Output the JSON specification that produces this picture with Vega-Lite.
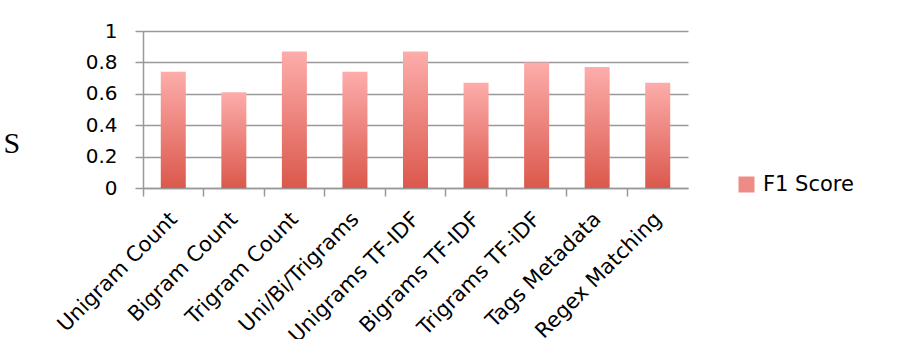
{
  "$schema": "https://vega.github.io/schema/vega-lite/v6.json",
  "width": 545,
  "height": 157,
  "autosize": {"type": "none"},
  "padding": {"left": 143, "top": 31, "right": 228, "bottom": 151},
  "background": "white",
  "data": {
    "values": [
      {"method": "Unigram Count", "score": 0.74, "series": "F1 Score"},
      {"method": "Bigram Count", "score": 0.61, "series": "F1 Score"},
      {"method": "Trigram Count", "score": 0.87, "series": "F1 Score"},
      {"method": "Uni/Bi/Trigrams", "score": 0.74, "series": "F1 Score"},
      {"method": "Unigrams TF-IDF", "score": 0.87, "series": "F1 Score"},
      {"method": "Bigrams TF-IDF", "score": 0.67, "series": "F1 Score"},
      {"method": "Trigrams TF-iDF", "score": 0.8, "series": "F1 Score"},
      {"method": "Tags Metadata", "score": 0.77, "series": "F1 Score"},
      {"method": "Regex Matching", "score": 0.67, "series": "F1 Score"}
    ]
  },
  "encoding": {
    "x": {
      "field": "method",
      "type": "nominal",
      "sort": null,
      "scale": {"paddingInner": 0, "paddingOuter": 0},
      "axis": {
        "title": null,
        "labelAngle": -45,
        "bandPosition": 0,
        "labelOffset": -7,
        "tickSize": 8,
        "tickColor": "#999999",
        "tickWidth": 1.5,
        "domainColor": "#999999",
        "domainWidth": 1.5,
        "labelFont": "DejaVu Sans",
        "labelFontSize": 21,
        "labelColor": "black",
        "labelPadding": 12,
        "grid": false
      }
    },
    "y": {
      "field": "score",
      "type": "quantitative",
      "scale": {"domain": [0, 1]},
      "axis": {
        "title": "S",
        "titleAngle": 0,
        "titleFont": "Liberation Serif",
        "titleFontSize": 30,
        "titleFontWeight": "normal",
        "titleColor": "black",
        "titleX": -140,
        "titleY": 121,
        "titleAlign": "left",
        "titleBaseline": "alphabetic",
        "values": [0, 0.2, 0.4, 0.6, 0.8, 1],
        "format": "~g",
        "tickSize": 8,
        "tickColor": "#999999",
        "tickWidth": 1.5,
        "domainColor": "#999999",
        "domainWidth": 1.5,
        "gridColor": "#999999",
        "gridWidth": 1.5,
        "labelFont": "DejaVu Sans",
        "labelFontSize": 20,
        "labelPadding": 18,
        "labelColor": "black"
      }
    }
  },
  "layer": [
    {
      "mark": {
        "type": "bar",
        "size": 25,
        "color": {"gradient": "linear", "x1": 0, "y1": 0, "x2": 0, "y2": 1,
          "stops": [{"offset": 0, "color": "#fdadab"}, {"offset": 1, "color": "#db584c"}]}
      }
    },
    {
      "mark": {"type": "bar", "size": 25, "opacity": 0},
      "encoding": {
        "color": {
          "field": "series",
          "type": "nominal",
          "scale": {"range": ["#ef8b85"]},
          "legend": {
            "title": null,
            "orient": "none",
            "legendX": 593,
            "legendY": 143,
            "symbolType": "square",
            "symbolSize": 256,
            "symbolStrokeWidth": 0,
            "symbolOpacity": 1,
            "labelFont": "DejaVu Sans",
            "labelFontSize": 21,
            "labelColor": "black",
            "labelOffset": 6
          }
        }
      }
    }
  ],
  "config": {"view": {"stroke": null}}
}
